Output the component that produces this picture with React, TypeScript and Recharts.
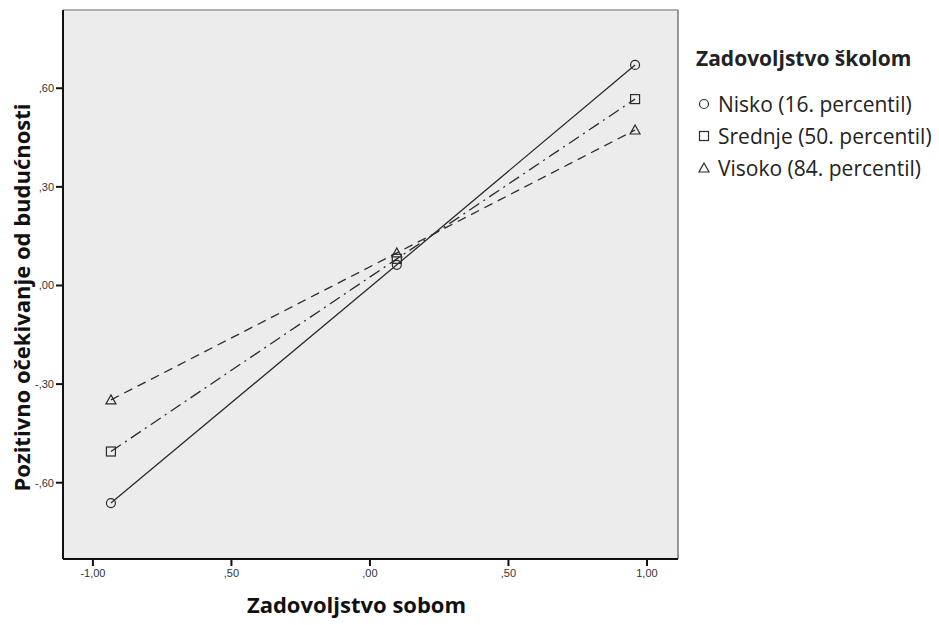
import { LineChart, Line, XAxis, YAxis, CartesianGrid, ReferenceLine, Label } from 'recharts';

// x positions of the three plotted levels of "Zadovoljstvo sobom"
const xValues = [-0.935, 0.097, 0.957];
const nisko = [-0.662, 0.063, 0.671];
const srednje = [-0.505, 0.081, 0.567];
const visoko = [-0.348, 0.099, 0.473];

const xTicks = [-1, -0.5, 0, 0.5, 1];
const xTickLabels = ['-1,00', ',50', ',00', ',50', '1,00'];
const yTicks = [-0.6, -0.3, 0, 0.3, 0.6];
const yTickLabels = ['-,60', '-,30', ',00', ',30', ',60'];

const seriesNames = ['Nisko (16. percentil)', 'Srednje (50. percentil)', 'Visoko (84. percentil)'];
const legendTitle = 'Zadovoljstvo školom';
const xTitle = 'Zadovoljstvo sobom';
const yTitle = 'Pozitivno očekivanje od budućnosti';

const X_MIN = -1.108;
const X_MAX = 1.112;
const Y_MIN = -0.832;
const Y_MAX = 0.838;

const data = xValues.map((x, i) => ({
    x,
    nisko: nisko[i],
    srednje: srednje[i],
    visoko: visoko[i],
}));

const INK = '#2b2b2b';
const TITLE_FONT = '"Open Sans", sans-serif';

type Shape = 'circle' | 'square' | 'triangle';

const Marker = ({ cx, cy, shape }: { cx: number; cy: number; shape: Shape }) => {
    if (shape === 'circle') {
        return <circle cx={cx} cy={cy} r={4.5} fill="none" stroke={INK} strokeWidth={1.2} />;
    }
    if (shape === 'square') {
        return <rect x={cx - 4.5} y={cy - 4.5} width={9} height={9} fill="none" stroke={INK} strokeWidth={1.2} />;
    }
    return (
        <polygon
            points={`${cx},${cy - 5} ${cx + 5},${cy + 4} ${cx - 5},${cy + 4}`}
            fill="none"
            stroke={INK}
            strokeWidth={1.2}
        />
    );
};

const makeDot = (shape: Shape) => (props: any) => {
    const { cx, cy, index } = props;
    return (
        <g key={`${shape}-${index}`}>
            <Marker cx={cx} cy={cy} shape={shape} />
        </g>
    );
};

const shapes: Shape[] = ['circle', 'square', 'triangle'];

const LegendBox = () => (
    <div style={{ position: 'absolute', left: 696, top: 44, fontFamily: TITLE_FONT, color: '#222', whiteSpace: 'nowrap' }}>
        <div style={{ fontWeight: 700, fontSize: 21, height: 44 }}>{legendTitle}</div>
        {seriesNames.map((name, i) => (
            <div key={name} style={{ display: 'flex', alignItems: 'center', fontSize: 21, height: 32 }}>
                <svg width={18} height={16} style={{ marginRight: 4 }}>
                    <Marker cx={8} cy={8} shape={shapes[i]} />
                </svg>
                {name}
            </div>
        ))}
    </div>
);

const XTitle = (props: any) => {
    const { viewBox } = props;
    return (
        <text
            x={viewBox.x + viewBox.width / 2 - 14}
            y={viewBox.y + 54}
            textAnchor="middle"
            fontFamily={TITLE_FONT}
            fontWeight={700}
            fontSize={22}
            fill="#111"
        >
            {xTitle}
        </text>
    );
};

const YTitle = (props: any) => {
    const { viewBox } = props;
    const cx = 21;
    const cy = viewBox.y + viewBox.height / 2 + 13;
    return (
        <text
            x={cx}
            y={cy}
            transform={`rotate(-90 ${cx} ${cy})`}
            textAnchor="middle"
            dominantBaseline="central"
            fontFamily={TITLE_FONT}
            fontWeight={700}
            fontSize={22}
            fill="#111"
        >
            {yTitle}
        </text>
    );
};

const tickStyle = { fill: '#333', fontSize: 11, fontFamily: '"Liberation Sans", Arial, sans-serif' };

export default function App() {
    return (
        <div style={{ position: 'absolute', left: 0, top: 0, width: 939, height: 625, background: '#fff' }}>
            <LineChart width={939} height={625} data={data} margin={{ top: 10, right: 261, bottom: 0, left: 0 }}>
                <CartesianGrid horizontal={false} vertical={false} fill="#ececec" />
                <XAxis
                    type="number"
                    dataKey="x"
                    domain={[X_MIN, X_MAX]}
                    ticks={xTicks}
                    tickFormatter={(_v: number, i: number) => xTickLabels[i]}
                    height={66}
                    tick={tickStyle}
                    tickSize={7}
                    tickMargin={3}
                    axisLine={{ stroke: '#111', strokeWidth: 2 }}
                    tickLine={{ stroke: '#111', strokeWidth: 2 }}
                    allowDataOverflow
                >
                    <Label content={<XTitle />} />
                </XAxis>
                <YAxis
                    type="number"
                    domain={[Y_MIN, Y_MAX]}
                    ticks={yTicks}
                    tickFormatter={(_v: number, i: number) => yTickLabels[i]}
                    width={63}
                    tick={tickStyle}
                    tickSize={7}
                    tickMargin={2}
                    axisLine={{ stroke: '#111', strokeWidth: 2 }}
                    tickLine={{ stroke: '#111', strokeWidth: 2 }}
                    allowDataOverflow
                >
                    <Label content={<YTitle />} />
                </YAxis>
                <ReferenceLine y={Y_MAX} stroke="#999" strokeWidth={1.5} />
                <ReferenceLine x={X_MAX} stroke="#777" strokeWidth={1.5} />
                <Line
                    dataKey="nisko"
                    stroke={INK}
                    strokeWidth={1.3}
                    dot={makeDot('circle')}
                    activeDot={false}
                    isAnimationActive={false}
                />
                <Line
                    dataKey="srednje"
                    stroke={INK}
                    strokeWidth={1.3}
                    strokeDasharray="12 5 2 5"
                    dot={makeDot('square')}
                    activeDot={false}
                    isAnimationActive={false}
                />
                <Line
                    dataKey="visoko"
                    stroke={INK}
                    strokeWidth={1.3}
                    strokeDasharray="9 6"
                    dot={makeDot('triangle')}
                    activeDot={false}
                    isAnimationActive={false}
                />
            </LineChart>
            <LegendBox />
        </div>
    );
}
